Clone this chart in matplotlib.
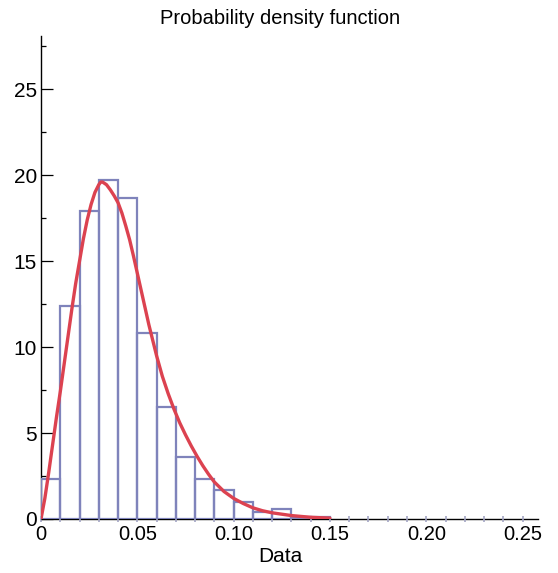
import matplotlib
matplotlib.use('Agg')
import matplotlib.pyplot as plt
import numpy as np

plt.rcParams['font.family'] = ['Liberation Sans', 'DejaVu Sans']

# histogram bins (width 0.01) and density heights
bin_edges = [0.00, 0.01, 0.02, 0.03, 0.04, 0.05, 0.06, 0.07,
             0.08, 0.09, 0.10, 0.11, 0.12, 0.13, 0.14, 0.15]
densities = [2.3, 12.4, 17.9, 19.7, 18.7, 10.8, 6.5, 3.6,
             2.3, 1.7, 1.0, 0.4, 0.6, 0.13, 0.13]

# fitted pdf, sampled by eye from the red curve
pdf_x = [0.000, 0.002, 0.004, 0.006, 0.008, 0.010, 0.012, 0.014, 0.016,
         0.018, 0.020, 0.022, 0.024, 0.026, 0.028, 0.030, 0.031, 0.032,
         0.034, 0.036, 0.038, 0.040, 0.042, 0.044, 0.046, 0.048, 0.050,
         0.052, 0.054, 0.056, 0.058, 0.060, 0.063, 0.066, 0.069, 0.072,
         0.075, 0.078, 0.081, 0.084, 0.087, 0.090, 0.095, 0.100, 0.105,
         0.110, 0.115, 0.120, 0.130, 0.140, 0.150]
pdf_y = [0.0, 1.2, 2.7, 4.3, 5.9, 7.4, 9.0, 10.6, 12.2,
         13.7, 15.0, 16.3, 17.4, 18.3, 19.0, 19.45, 19.6, 19.6,
         19.45, 19.15, 18.8, 18.4, 17.8, 17.05, 16.25, 15.3, 14.3,
         13.3, 12.3, 11.3, 10.4, 9.5, 8.3, 7.3, 6.4, 5.6,
         4.9, 4.25, 3.65, 3.1, 2.6, 2.15, 1.6, 1.2, 0.9,
         0.65, 0.48, 0.36, 0.2, 0.1, 0.05]

x_ticks = [0, 0.05, 0.10, 0.15, 0.20, 0.25]
x_tick_labels = ['0', '0.05', '0.10', '0.15', '0.20', '0.25']
y_ticks = [0, 5, 10, 15, 20, 25]

fig = plt.figure(figsize=(5.58, 5.73), dpi=100)
ax = fig.add_axes([41 / 558, 54 / 573, 497 / 558, 483 / 573])

lefts = np.array(bin_edges[:-1])
ax.bar(lefts, densities, width=0.01, align='edge', fill=False,
       edgecolor='#7f83bb', linewidth=1.6, zorder=2)
ax.plot(pdf_x, pdf_y, color='#dc4250', linewidth=2.4, zorder=3,
        solid_capstyle='round', solid_joinstyle='round')

ax.set_xlim(0, 0.258)
ax.set_ylim(0, 28.1)

for side in ['top', 'right']:
    ax.spines[side].set_visible(False)
for side in ['left', 'bottom']:
    ax.spines[side].set_linewidth(1.0)
    ax.spines[side].set_zorder(1)

ax.set_yticks(y_ticks)
ax.set_yticks(np.arange(2.5, 28, 5), minor=True)
ax.tick_params(axis='y', which='major', direction='in', length=8.5, width=0.9,
               labelsize=15, pad=3)
ax.tick_params(axis='y', which='minor', direction='in', length=3.6, width=0.9)

ax.set_xticks(x_ticks)
ax.set_xticklabels(x_tick_labels)
ax.set_xticks(np.arange(0.01, 0.255, 0.01), minor=True)
ax.tick_params(axis='x', which='both', direction='inout', length=4,
               width=1.2, color='#a3a5c4', labelsize=14.5, pad=2)

fig.text(280 / 558, 1 - 18 / 573, 'Probability density function',
         ha='center', va='center', fontsize=14.5)
fig.text(280 / 558, 1 - 556 / 573, 'Data', ha='center', va='center',
         fontsize=15)

fig.savefig('out.png', dpi=100)
